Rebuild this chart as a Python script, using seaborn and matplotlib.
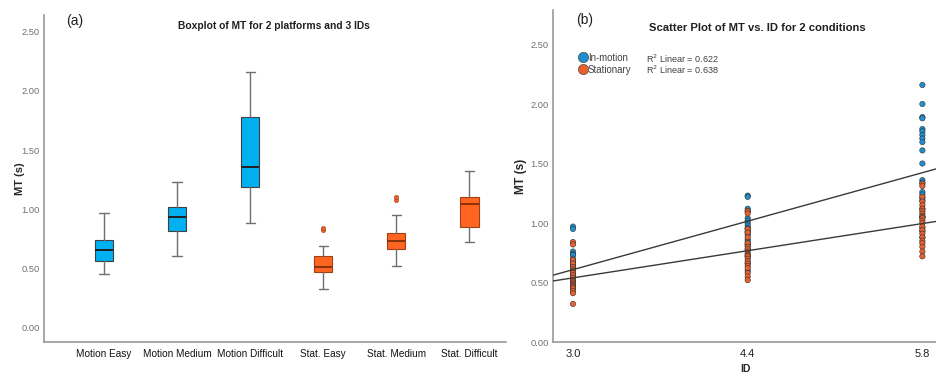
import numpy as np
import pandas as pd
import seaborn as sns
import matplotlib
matplotlib.use('Agg')
from matplotlib import pyplot as plt
from matplotlib import font_manager

# ---- data ----
box_labels = ['Motion Easy', 'Motion Medium', 'Motion Difficult', 'Stat. Easy', 'Stat. Medium', 'Stat. Difficult']
box_low = [0.45, 0.60, 0.88, 0.32, 0.52, 0.72]
box_q1 = [0.56, 0.81, 1.19, 0.47, 0.66, 0.85]
box_med = [0.65, 0.93, 1.36, 0.51, 0.73, 1.04]
box_q3 = [0.74, 1.02, 1.78, 0.60, 0.80, 1.10]
box_high = [0.97, 1.23, 2.16, 0.69, 0.95, 1.32]
box_fliers = [[], [], [], [0.82, 0.84], [1.08, 1.10], []]

ids = [3.0, 4.4, 5.8]
motion_30 = [0.97, 0.95, 0.76, 0.74, 0.73, 0.70, 0.68, 0.66, 0.65, 0.64, 0.62, 0.60, 0.58, 0.57, 0.56, 0.55, 0.52, 0.50, 0.47, 0.45]
motion_44 = [1.23, 1.22, 1.12, 1.10, 1.04, 1.02, 1.00, 0.98, 0.96, 0.95, 0.93, 0.92, 0.90, 0.86, 0.84, 0.82, 0.81, 0.78, 0.72, 0.66, 0.60]
motion_58 = [2.16, 2.00, 1.89, 1.88, 1.79, 1.77, 1.74, 1.71, 1.68, 1.61, 1.50, 1.36, 1.34, 1.26, 1.24, 1.21, 1.19, 1.12, 1.05, 0.96, 0.93, 0.88]
stat_30 = [0.84, 0.82, 0.69, 0.66, 0.63, 0.61, 0.60, 0.58, 0.56, 0.54, 0.52, 0.51, 0.50, 0.49, 0.48, 0.47, 0.46, 0.45, 0.43, 0.41, 0.32]
stat_44 = [1.10, 1.08, 0.95, 0.92, 0.88, 0.83, 0.80, 0.78, 0.76, 0.74, 0.73, 0.72, 0.70, 0.68, 0.66, 0.64, 0.62, 0.58, 0.55, 0.52]
stat_58 = [1.33, 1.31, 1.22, 1.18, 1.15, 1.12, 1.10, 1.08, 1.06, 1.05, 1.04, 1.02, 1.00, 0.97, 0.94, 0.91, 0.88, 0.85, 0.83, 0.80, 0.76, 0.72]

fit_names = ['In-motion', 'Stationary']
fit_intercept = [-0.265, 0.050]   # MT = a + b*ID
fit_slope = [0.291, 0.163]
r2_labels = ['R$^2$ Linear = 0.622', 'R$^2$ Linear = 0.638']

# ---- style ----
sns.set_style('white')
have_narrow = any('Narrow' in f.name for f in font_manager.fontManager.ttflist)
if have_narrow:
    plt.rcParams['font.family'] = ['Liberation Sans Narrow', 'Liberation Sans', 'DejaVu Sans']
    k = 1.15   # narrow font can be a bit larger for the same width
else:
    plt.rcParams['font.family'] = ['Liberation Sans', 'DejaVu Sans']
    k = 1.0
reg = ['Liberation Sans', 'DejaVu Sans']

box_colors = ['#00b0f0'] * 3 + ['#ff6421'] * 3
scat_pal = {'In-motion': '#1f8fcf', 'Stationary': '#e8612c'}
grey = '#9a9a9a'

W, H = 937, 377
fig = plt.figure(figsize=(W / 100, H / 100), dpi=100)

# ---------- (a) boxplot ----------
ax1 = fig.add_axes([44 / W, 35 / H, 462 / W, 327 / H])
stats = []
for i in range(len(box_labels)):
    stats.append(dict(label=box_labels[i], whislo=box_low[i], q1=box_q1[i], med=box_med[i],
                      q3=box_q3[i], whishi=box_high[i], fliers=box_fliers[i]))
bp = ax1.bxp(stats, positions=range(len(box_labels)), widths=0.25, patch_artist=True,
             showfliers=True,
             medianprops=dict(color='#202020', linewidth=1.4),
             whiskerprops=dict(color='#6e6e6e', linewidth=1.0),
             capprops=dict(color='#6e6e6e', linewidth=1.0),
             flierprops=dict(marker='o', markersize=3, markerfacecolor='#e8612c',
                             markeredgecolor='#b04a20', markeredgewidth=0.5))
for patch, c in zip(bp['boxes'], box_colors):
    patch.set_facecolor(c)
    patch.set_edgecolor('#404040' if c == '#00b0f0' else '#a04010')
    patch.set_linewidth(0.8)
for i, med in enumerate(bp['medians']):
    if i >= 3:
        med.set_color('#8a3008')
ax1.set_xlim(-0.82, 5.5)
ax1.set_ylim(-0.127, 2.644)
ax1.set_yticks([0, 0.5, 1.0, 1.5, 2.0, 2.5])
ax1.set_yticklabels(['0.00', '0.50', '1.00', '1.50', '2.00', '2.50'])
ax1.set_xticks(range(len(box_labels)))
ax1.set_xticklabels(box_labels)
ax1.tick_params(axis='y', length=0, labelsize=5.8 * k, labelcolor='#707070', pad=3)
ax1.tick_params(axis='x', length=0, labelsize=6.3 * k, labelcolor='#111111', pad=5)
ax1.set_ylabel('MT (s)', fontsize=7 * k, fontweight='bold')
ax1.yaxis.set_label_coords(-0.042, 0.5)
sns.despine(ax=ax1)
for s in ['left', 'bottom']:
    ax1.spines[s].set_color(grey)
    ax1.spines[s].set_linewidth(1.2)

# ---------- (b) scatter ----------
ax2 = fig.add_axes([553 / W, 35 / H, 384 / W, 332 / H])
rows = []
for idv, vals in zip(ids, [motion_30, motion_44, motion_58]):
    rows += [('In-motion', idv, v) for v in vals]
for idv, vals in zip(ids, [stat_30, stat_44, stat_58]):
    rows += [('Stationary', idv, v) for v in vals]
df = pd.DataFrame(rows, columns=['cond', 'ID', 'MT'])
sns.scatterplot(data=df, x='ID', y='MT', hue='cond', palette=scat_pal, s=15,
                edgecolor='#303030', linewidth=0.4, ax=ax2, zorder=3)
for a, b in zip(fit_intercept, fit_slope):
    ax2.axline((0, a), slope=b, color='#3a3a3a', linewidth=1.0, zorder=4)

ax2.set_xlim(2.84, 5.917)
ax2.set_ylim(0, 2.79)
ax2.set_xticks(ids)
ax2.set_xticklabels(['3.0', '4.4', '5.8'])
ax2.set_yticks([0, 0.5, 1.0, 1.5, 2.0, 2.5])
ax2.set_yticklabels(['0.00', '0.50', '1.00', '1.50', '2.00', '2.50'])
ax2.tick_params(axis='y', length=0, labelsize=5.8 * k, labelcolor='#707070', pad=3)
ax2.tick_params(axis='x', length=0, labelsize=8, labelcolor='#202020', pad=5)
for t in ax2.get_xticklabels():
    t.set_family(reg)
ax2.set_ylabel('MT (s)', fontsize=7.5 * k, fontweight='bold')
ax2.yaxis.set_label_coords(-0.068, 0.498)
ax2.set_xlabel('ID', fontsize=7.5, fontweight='bold', labelpad=4)

sns.despine(ax=ax2)
for s in ['left', 'bottom']:
    ax2.spines[s].set_color(grey)
    ax2.spines[s].set_linewidth(1.2)

leg = ax2.legend(loc='upper left', bbox_to_anchor=(0.057, 0.883), frameon=False, title=None,
                 fontsize=6 * k, markerscale=1.9, handletextpad=0.15, labelspacing=0.2,
                 borderaxespad=0, handlelength=0.8)
for t in leg.get_texts():
    t.set_color('#404040')
for i, txt in enumerate(r2_labels):
    fig.text(646 / W, 1 - (59 + 11 * i) / H, txt, fontsize=5.6 * k, color='#404040',
             va='center', ha='left')

# titles / panel tags
fig.text(274 / W, 1 - 26 / H, 'Boxplot of MT for 2 platforms and 3 IDs', fontsize=6.45 * k,
         fontweight='bold', ha='center', va='center', color='#202020')
fig.text(757 / W, 1 - 28 / H, 'Scatter Plot of MT vs. ID for 2 conditions', fontsize=7.05 * k,
         fontweight='bold', ha='center', va='center', color='#202020')
fig.text(66 / W, 1 - 21 / H, '(a)', fontsize=10, family=reg, ha='left', va='center', color='#202020')
fig.text(576 / W, 1 - 20 / H, '(b)', fontsize=10, family=reg, ha='left', va='center', color='#202020')

fig.savefig('out.png', dpi=100)
